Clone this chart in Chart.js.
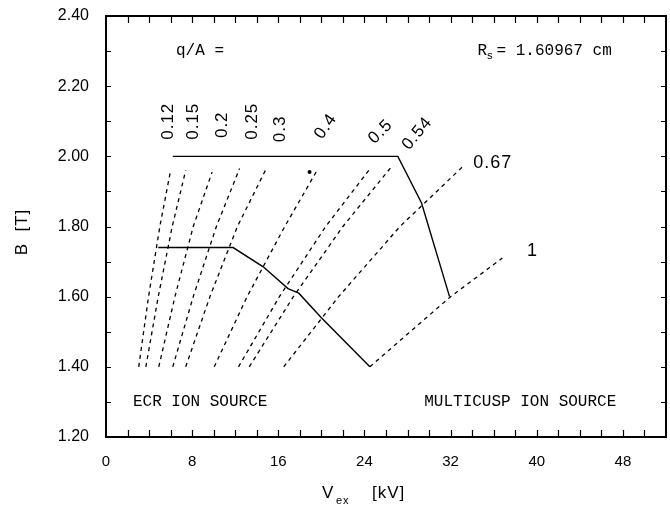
<!DOCTYPE html>
<html>
<head>
<meta charset="utf-8">
<script src="https://cdn.jsdelivr.net/npm/chart.js@4/dist/chart.umd.min.js"></script>
<style>
  html, body { margin: 0; padding: 0; background: #fff; }
</style>
</head>
<body>
<canvas id="chart-1" width="670" height="510"></canvas>
<script>
// q/A curves, V_ex [kV] read at B = 1.40, 1.60, 1.80 and at the top end
var qaLabels = ["0.12", "0.15", "0.2", "0.25", "0.3", "0.4", "0.5", "0.54", "0.67", "1"];
var bLevels = [1.40, 1.60, 1.80];
var vAt140 = [3.04, 3.7, 4.9, 6.2, 7.4, 10.05, 12.3, 13.3, 16.5, 24.5];
var vAt160 = [3.95, 4.85, 6.4, 8.1, 9.65, 13.1, 16.1, 17.4, 21.6, 32.0];
var vAt180 = [5.0, 6.15, 8.1, 10.25, 12.2, 16.6, 20.4, 22.0, 27.3, null];
var vTop = [6.0, 7.4, 9.85, 12.4, 14.8, 19.6, 24.4, 26.5, 33.1, 36.8];
var bTop = [1.96, 1.96, 1.955, 1.965, 1.96, 1.96, 1.96, 1.97, 1.97, 1.71];

// solid boundaries
var upperV = [6.2, 27.1, 29.3, 31.9];
var upperB = [2.00, 2.00, 1.867, 1.60];
var lowerV = [4.85, 6.0, 7.9, 9.8, 11.8, 14.6, 16.9, 17.9, 20.0, 24.5];
var lowerB = [1.74, 1.74, 1.74, 1.74, 1.74, 1.685, 1.623, 1.61, 1.54, 1.40];

var dotV = [18.9];
var dotB = [1.955];

var datasets = [];
qaLabels.forEach(function (lab, i) {
  var pts = [];
  [vAt140[i], vAt160[i], vAt180[i]].forEach(function (v, k) {
    if (v !== null) pts.push({ x: v, y: bLevels[k] });
  });
  pts.push({ x: vTop[i], y: bTop[i] });
  datasets.push({
    label: "q/A " + lab,
    data: pts,
    borderColor: "#000",
    borderWidth: 1.3,
    borderDash: [4, 4],
    pointRadius: 0,
    fill: false,
  });
});
datasets.push({
  label: "upper",
  data: upperV.map(function (v, i) { return { x: v, y: upperB[i] }; }),
  borderColor: "#000",
  borderWidth: 1.4,
  pointRadius: 0,
});
datasets.push({
  label: "lower",
  data: lowerV.map(function (v, i) { return { x: v, y: lowerB[i] }; }),
  borderColor: "#000",
  borderWidth: 1.4,
  pointRadius: 0,
});
datasets.push({
  label: "dot",
  data: dotV.map(function (v, i) { return { x: v, y: dotB[i] }; }),
  showLine: false,
  pointRadius: 2,
  pointBackgroundColor: "#000",
  pointBorderWidth: 0,
});

// text placed on the plot (data coordinates)
var curveTags = [
  { t: "0.12", x: 5.8, y: 2.10, a: -90 },
  { t: "0.15", x: 8.1, y: 2.10, a: -90 },
  { t: "0.2", x: 10.8, y: 2.09, a: -90 },
  { t: "0.25", x: 13.6, y: 2.10, a: -90 },
  { t: "0.3", x: 16.2, y: 2.078, a: -90 },
  { t: "0.4", x: 20.4, y: 2.085, a: -55 },
  { t: "0.5", x: 25.5, y: 2.07, a: -45 },
  { t: "0.54", x: 28.9, y: 2.065, a: -50 },
];

var mono = "16px 'Liberation Mono', monospace";
var sans = "'Liberation Sans', sans-serif";

var decor = {
  id: "decor",
  afterDraw: function (chart) {
    var ctx = chart.ctx;
    var a = chart.chartArea;
    var xs = chart.scales.x, ys = chart.scales.y;
    ctx.save();
    ctx.strokeStyle = "#000";
    ctx.fillStyle = "#000";

    // inward ticks
    ctx.lineWidth = 1.2;
    ctx.beginPath();
    xs.ticks.forEach(function (t) {
      var px = Math.round(xs.getPixelForValue(t.value)) + 0.5;
      if (px <= a.left + 1 || px >= a.right - 1) return;
      ctx.moveTo(px, a.bottom); ctx.lineTo(px, a.bottom - 7);
      ctx.moveTo(px, a.top); ctx.lineTo(px, a.top + 7);
    });
    ys.ticks.forEach(function (t) {
      var py = Math.round(ys.getPixelForValue(t.value)) + 0.5;
      if (py <= a.top + 1 || py >= a.bottom - 1) return;
      ctx.moveTo(a.left, py); ctx.lineTo(a.left + 5, py);
      ctx.moveTo(a.right, py); ctx.lineTo(a.right - 5, py);
    });
    ctx.stroke();

    // frame
    ctx.lineWidth = 2;
    ctx.strokeRect(a.left, a.top, a.right - a.left, a.bottom - a.top);

    // rotated q/A values
    ctx.font = "17px " + sans;
    ctx.letterSpacing = "1px";
    ctx.textAlign = "center";
    ctx.textBaseline = "middle";
    curveTags.forEach(function (c) {
      ctx.save();
      ctx.translate(xs.getPixelForValue(c.x), ys.getPixelForValue(c.y));
      ctx.rotate(c.a * Math.PI / 180);
      ctx.fillText(c.t, 0, 0);
      ctx.restore();
    });

    ctx.textAlign = "left";
    ctx.font = "18px " + sans;
    ctx.fillText("0.67", xs.getPixelForValue(34.1), ys.getPixelForValue(1.98));
    ctx.fillText("1", xs.getPixelForValue(39.1), ys.getPixelForValue(1.73));
    ctx.letterSpacing = "0px";

    ctx.font = mono;
    ctx.fillText("q/A =", xs.getPixelForValue(6.5), ys.getPixelForValue(2.30));
    var rx = xs.getPixelForValue(34.5), ry = ys.getPixelForValue(2.30);
    ctx.fillText("R", rx, ry);
    ctx.font = "11px 'Liberation Mono', monospace";
    ctx.fillText("s", rx + 9, ry + 5);
    ctx.font = mono;
    ctx.fillText("= 1.60967 cm", rx + 19, ry);
    ctx.fillText("ECR ION SOURCE", xs.getPixelForValue(2.5), ys.getPixelForValue(1.30));
    ctx.fillText("MULTICUSP ION SOURCE", xs.getPixelForValue(29.55), ys.getPixelForValue(1.30));

    // axis titles
    ctx.letterSpacing = "1px";
    ctx.font = "17px " + sans;
    ctx.fillText("V", 322, 493);
    ctx.font = "11px " + sans;
    ctx.fillText("ex", 336, 501);
    ctx.font = "17px " + sans;
    ctx.fillText("[kV]", 372, 493);

    ctx.save();
    ctx.translate(22, 232);
    ctx.rotate(-Math.PI / 2);
    ctx.textAlign = "center";
    ctx.fillText("B  [T]", 0, 0);
    ctx.restore();

    ctx.restore();
  },
};

Chart.defaults.font.family = sans;
Chart.defaults.color = "#000";

var chartOne = document.getElementById("chart-1").getContext("2d");
var myChart = new Chart(chartOne, {
  type: "line",
  data: { datasets: datasets },
  options: {
    responsive: false,
    animation: false,
    layout: { padding: { top: 16, right: 4, left: 0, bottom: 0 } },
    plugins: { legend: { display: false }, tooltip: { enabled: false } },
    scales: {
      x: {
        type: "linear",
        min: 0,
        max: 52,
        afterFit: function (s) {
          s.height = 73;
          s.paddingLeft = 0;
          s.paddingRight = 0;
        },
        grid: { display: false, drawTicks: false },
        border: { display: false },
        ticks: {
          stepSize: 2,
          autoSkip: false,
          maxRotation: 0,
          padding: 16,
          font: { size: 15 },
          callback: function (v) { return v % 8 === 0 ? String(v) : ""; },
        },
      },
      y: {
        type: "linear",
        min: 1.2,
        max: 2.4,
        afterFit: function (s) {
          s.width = 106;
          s.paddingTop = 0;
          s.paddingBottom = 0;
        },
        grid: { display: false, drawTicks: false },
        border: { display: false },
        ticks: {
          stepSize: 0.1,
          autoSkip: false,
          padding: 17,
          font: { size: 16 },
          callback: function (v) {
            return Math.round(v * 10) % 2 === 0 ? v.toFixed(2) : "";
          },
        },
      },
    },
  },
  plugins: [decor],
});
</script>
</body>
</html>
